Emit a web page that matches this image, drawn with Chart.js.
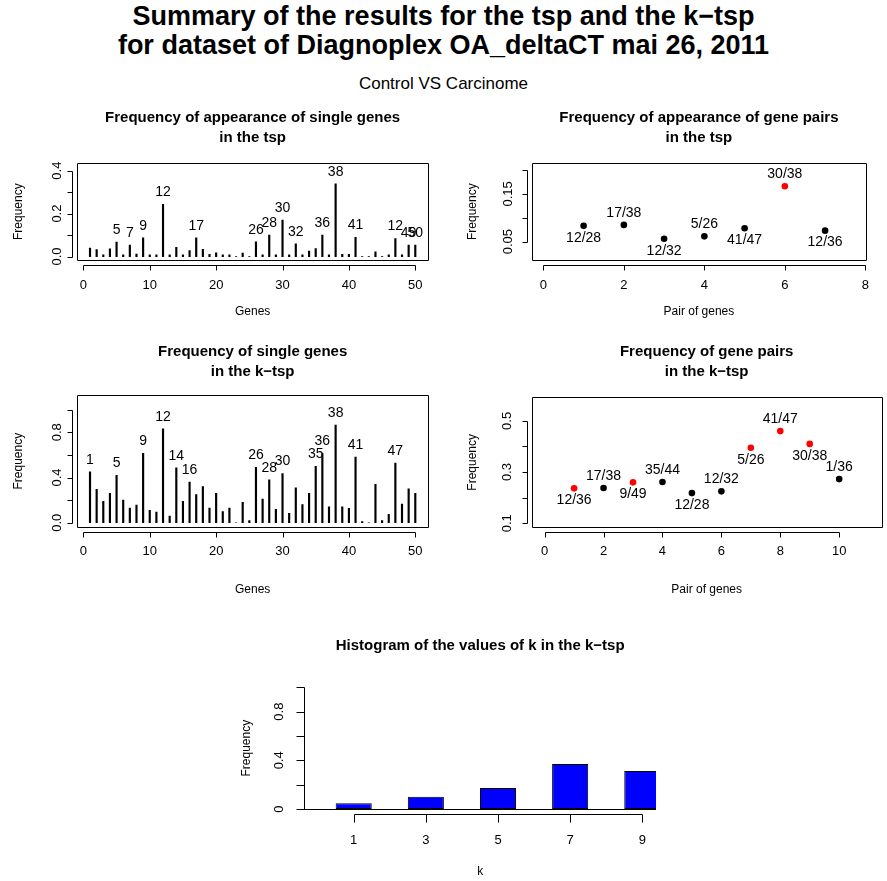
<!DOCTYPE html>
<html>
<head>
<meta charset="utf-8">
<script src="https://cdn.jsdelivr.net/npm/chart.js@4.4.1/dist/chart.umd.min.js"></script>
<style>
  body { margin: 0; background: #fff; }
  #pagina { position: relative; width: 887px; height: 881px; font-family: "Liberation Sans", Arial, Helvetica, sans-serif; color: #000; }
  #pagina canvas { position: absolute; left: 0; top: 0; }
  .titulo { position: absolute; left: 0; width: 887px; text-align: center; }
</style>
</head>
<body>
<div id="pagina">
  <div class="titulo" style="top:2px;font-size:27px;font-weight:bold;line-height:29px;">Summary of the results for the tsp and the k−tsp<br>for dataset of Diagnoplex OA_deltaCT mai 26, 2011</div>
  <div class="titulo" style="top:74px;font-size:17px;line-height:20px;">Control VS Carcinome</div>
  <canvas id="tspGenes" width="887" height="881"></canvas>
  <canvas id="tspPairs" width="887" height="881"></canvas>
  <canvas id="ktspGenes" width="887" height="881"></canvas>
  <canvas id="ktspPairs" width="887" height="881"></canvas>
  <canvas id="histK" width="887" height="881"></canvas>
</div>
<script>
// --- Datos ---
const genes = [1, 2, 3, 4, 5, 6, 7, 8, 9, 10, 11, 12, 13, 14, 15, 16, 17, 18, 19, 20,
               21, 22, 23, 24, 25, 26, 27, 28, 29, 30, 31, 32, 33, 34, 35, 36, 37, 38, 39, 40,
               41, 42, 43, 44, 45, 46, 47, 48, 49, 50];

const tspGeneFreq = [0.040, 0.033, 0.008, 0.036, 0.067, 0.008, 0.054, 0.012, 0.087, 0.008,
                     0.008, 0.243, 0.008, 0.043, 0.008, 0.028, 0.087, 0.034, 0.010, 0.017,
                     0.008, 0.008, 0, 0.016, 0, 0.068, 0.008, 0.100, 0.008, 0.170,
                     0.008, 0.059, 0.008, 0.025, 0.037, 0.100, 0.008, 0.338, 0.010, 0.010,
                     0.090, 0, 0, 0.022, 0, 0.008, 0.084, 0.008, 0.053, 0.053];
const tspLabelGenes = [5, 7, 9, 12, 17, 26, 28, 30, 32, 36, 38, 41, 47, 49, 50];
const tspLabelText = ["5", "7", "9", "12", "17", "26", "28", "30", "32", "36", "38", "41", "12", "49", "50"];

const ktspGeneFreq = [0.450, 0.296, 0.190, 0.260, 0.420, 0.200, 0.130, 0.157, 0.615, 0.110,
                      0.095, 0.830, 0.060, 0.485, 0.190, 0.360, 0.250, 0.320, 0.130, 0.260,
                      0.100, 0.130, 0, 0.180, 0.020, 0.490, 0.210, 0.380, 0.120, 0.435,
                      0.083, 0.310, 0.160, 0.260, 0.500, 0.612, 0.140, 0.865, 0.140, 0.127,
                      0.580, 0.010, 0, 0.340, 0.020, 0.074, 0.527, 0.166, 0.300, 0.260];
const ktspLabelGenes = [1, 5, 9, 12, 14, 16, 26, 28, 30, 35, 36, 38, 41, 47];
const ktspLabelText = ["1", "5", "9", "12", "14", "16", "26", "28", "30", "35", "36", "38", "41", "47"];

const tspPairIdx = [1, 2, 3, 4, 5, 6, 7];
const tspPairFreq = [0.083, 0.085, 0.056, 0.061, 0.078, 0.166, 0.073];
const tspPairNames = ["12/28", "17/38", "12/32", "5/26", "41/47", "30/38", "12/36"];
const tspPairSelected = [false, false, false, false, false, true, false];

const ktspPairIdx = [1, 2, 3, 4, 5, 6, 7, 8, 9, 10];
const ktspPairFreq = [0.2365, 0.2377, 0.260, 0.261, 0.218, 0.2248, 0.395, 0.460, 0.410, 0.2727];
const ktspPairNames = ["12/36", "17/38", "9/49", "35/44", "12/28", "12/32", "5/26", "41/47", "30/38", "1/36"];
const ktspPairSelected = [true, false, true, false, false, false, true, true, true, false];

const kValues = [1, 3, 5, 7, 9];
const kFreq = [0.047, 0.100, 0.173, 0.370, 0.313];

// ticks
const geneTicks = [0, 10, 20, 30, 40, 50];
const tspPairXTicks = [0, 2, 4, 6, 8];
const ktspPairXTicks = [0, 2, 4, 6, 8, 10];
const tspGeneYTicks = [0, 0.1, 0.2, 0.3, 0.4];
const tspGeneYLabels = ["0.0", "", "0.2", "", "0.4"];
const ktspGeneYTicks = [0, 0.2, 0.4, 0.6, 0.8, 1.0];
const ktspGeneYLabels = ["0.0", "", "0.4", "", "0.8", ""];
const tspPairYTicks = [0.05, 0.10, 0.15, 0.20];
const tspPairYLabels = ["0.05", "", "0.15", ""];
const ktspPairYTicks = [0.1, 0.2, 0.3, 0.4, 0.5];
const ktspPairYLabels = ["0.1", "", "0.3", "", "0.5"];
const histYTicks = [0, 0.2, 0.4, 0.6, 0.8, 1.0];
const histYLabels = ["0", "", "0.4", "", "0.8", ""];

const W = 887, H = 881;
Chart.defaults.font.family = '"Liberation Sans", Arial, Helvetica, sans-serif';
Chart.defaults.color = "#000";

// --- Ejes estilo R: caja, linea de eje separada y marcas ---
const ejesR = {
    id: "ejesR",
    afterDraw(chart, args, o) {
        const { ctx, chartArea: a, scales: { x, y } } = chart;
        ctx.save();
        ctx.strokeStyle = "#000";
        ctx.lineWidth = 1;
        ctx.beginPath();
        if (o.caja) {
            ctx.rect(Math.round(a.left) + 0.5, Math.round(a.top) + 0.5, Math.round(a.width), Math.round(a.height));
        }
        const yx = Math.round(a.bottom + o.sep) + 0.5;
        const xs = x.ticks.map(t => Math.round(x.getPixelForValue(t.value)) + 0.5);
        ctx.moveTo(xs[0], yx);
        ctx.lineTo(xs[xs.length - 1], yx);
        xs.forEach(p => { ctx.moveTo(p, yx); ctx.lineTo(p, yx + o.marca); });
        const xy = Math.round(a.left - o.sep) + 0.5;
        const ys = y.ticks.map(t => Math.round(y.getPixelForValue(t.value)) + 0.5);
        ctx.moveTo(xy, ys[0]);
        ctx.lineTo(xy, ys[ys.length - 1]);
        ys.forEach(p => { ctx.moveTo(xy, p); ctx.lineTo(xy - o.marca, p); });
        if (o.cero) {
            const p0 = Math.round(y.getPixelForValue(0)) + 0.5;
            ctx.moveTo(a.left, p0);
            ctx.lineTo(a.right, p0);
        }
        ctx.stroke();
        ctx.restore();
    }
};

// --- Etiquetas de texto sobre barras / puntos ---
const etiquetas = {
    id: "etiquetas",
    afterDatasetsDraw(chart) {
        const ds = chart.data.datasets[0];
        if (!ds.etiquetas) return;
        const meta = chart.getDatasetMeta(0);
        const ctx = chart.ctx;
        ctx.save();
        ctx.font = '14px "Liberation Sans", Arial, sans-serif';
        ctx.fillStyle = "#000";
        ctx.textAlign = "center";
        ctx.textBaseline = "middle";
        ds.etiquetas.forEach((t, i) => {
            if (!t) return;
            const el = meta.data[i];
            ctx.fillText(t, el.x, el.y + (ds.arriba[i] ? -12 : 12));
        });
        ctx.restore();
    }
};

function crearPanel(id, p) {
    const padLeft = p.yTitleX - 7.2;
    const hx = p.xTitleY + 7.2 - p.box.b;
    const wy = p.box.l - padLeft;
    return new Chart(document.getElementById(id), {
        type: p.type,
        data: { datasets: p.datasets },
        options: {
            responsive: false,
            animation: false,
            events: [],
            layout: { padding: { left: padLeft, top: p.titleTop, right: W - p.box.r, bottom: H - p.box.b - hx } },
            plugins: {
                legend: { display: false },
                tooltip: { enabled: false },
                title: {
                    display: true, text: p.title, fullSize: false, color: "#000",
                    font: { size: 15, weight: "bold", lineHeight: 20 / 15 },
                    padding: { top: 0, bottom: p.box.t - p.titleTop - 20 * p.title.length }
                },
                ejesR: p.ejes
            },
            scales: {
                x: {
                    type: "linear", min: p.xMin, max: p.xMax, offset: false,
                    afterBuildTicks: s => { s.ticks = p.xTicks.map(v => ({ value: v })); },
                    ticks: { autoSkip: false, maxRotation: 0, padding: p.xLabelPad, font: { size: 13 }, color: "#000", callback: v => String(v) },
                    grid: { display: false, drawTicks: false },
                    border: { display: false },
                    title: { display: true, text: p.xTitle, font: { size: 12 }, color: "#000", padding: 0 },
                    afterFit: s => { s.height = hx; }
                },
                y: {
                    type: "linear", min: p.yMin, max: p.yMax,
                    afterBuildTicks: s => { s.ticks = p.yTicks.map(v => ({ value: v })); },
                    ticks: { autoSkip: false, minRotation: 90, maxRotation: 90, crossAlign: "center", padding: p.yLabelPad,
                             font: { size: 13 }, color: "#000", callback: (v, i) => p.yLabels[i] },
                    grid: { display: false, drawTicks: false },
                    border: { display: false },
                    title: { display: true, text: "Frequency", font: { size: 12 }, color: "#000", padding: 0 },
                    afterFit: s => { s.width = wy; }
                }
            }
        },
        plugins: [ejesR, etiquetas]
    });
}

function etiquetasGenes(lista, textos) {
    return genes.map(g => {
        const k = lista.indexOf(g);
        return k < 0 ? "" : textos[k];
    });
}

// --- Frecuencia de genes en el tsp ---
crearPanel("tspGenes", {
    type: "bar",
    title: ["Frequency of appearance of single genes", "in the tsp"],
    titleTop: 108,
    box: { l: 77, t: 163.3, r: 428.3, b: 260 },
    xMin: -0.96, xMax: 51.96, xTicks: geneTicks, xTitle: "Genes", xTitleY: 312, xLabelPad: 18,
    yMin: -0.016, yMax: 0.434, yTicks: tspGeneYTicks, yLabels: tspGeneYLabels, yTitleX: 19, yLabelPad: 11,
    ejes: { caja: true, sep: 5, marca: 5 },
    datasets: [{
        data: genes.map((g, i) => ({ x: g, y: tspGeneFreq[i] })),
        backgroundColor: "#000", barThickness: 1.5, clip: 0,
        etiquetas: etiquetasGenes(tspLabelGenes, tspLabelText),
        arriba: genes.map(() => true)
    }]
});

// --- Frecuencia de pares en el tsp ---
crearPanel("tspPairs", {
    type: "scatter",
    title: ["Frequency of appearance of gene pairs", "in the tsp"],
    titleTop: 108,
    box: { l: 531.7, t: 163.3, r: 882.7, b: 260 },
    xMin: -0.29, xMax: 8.02, xTicks: tspPairXTicks, xTitle: "Pair of genes", xTitleY: 312, xLabelPad: 18,
    yMin: 0.0115, yMax: 0.214, yTicks: tspPairYTicks, yLabels: tspPairYLabels, yTitleX: 473, yLabelPad: 10.8,
    ejes: { caja: true, sep: 5, marca: 5 },
    datasets: [{
        data: tspPairIdx.map((v, i) => ({ x: v, y: tspPairFreq[i] })),
        pointRadius: 3.3, borderWidth: 0,
        pointBackgroundColor: tspPairSelected.map(s => s ? "#ff0000" : "#000000"),
        etiquetas: tspPairNames,
        arriba: tspPairIdx.map((v, i) => i % 2 === 1)
    }]
});

// --- Frecuencia de genes en el k-tsp ---
crearPanel("ktspGenes", {
    type: "bar",
    title: ["Frequency of single genes", "in the k−tsp"],
    titleTop: 342,
    box: { l: 77, t: 395, r: 428.3, b: 527.3 },
    xMin: -0.96, xMax: 51.96, xTicks: geneTicks, xTitle: "Genes", xTitleY: 590, xLabelPad: 16,
    yMin: -0.04, yMax: 1.13, yTicks: ktspGeneYTicks, yLabels: ktspGeneYLabels, yTitleX: 19, yLabelPad: 10.7,
    ejes: { caja: true, sep: 5, marca: 5 },
    datasets: [{
        data: genes.map((g, i) => ({ x: g, y: ktspGeneFreq[i] })),
        backgroundColor: "#000", barThickness: 1.5, clip: 0,
        etiquetas: etiquetasGenes(ktspLabelGenes, ktspLabelText),
        arriba: genes.map(() => true)
    }]
});

// --- Frecuencia de pares en el k-tsp ---
crearPanel("ktspPairs", {
    type: "scatter",
    title: ["Frequency of gene pairs", "in the k−tsp"],
    titleTop: 342,
    box: { l: 531.7, t: 397.3, r: 881.6, b: 527.3 },
    xMin: -0.44, xMax: 11.44, xTicks: ktspPairXTicks, xTitle: "Pair of genes", xTitleY: 590, xLabelPad: 16,
    yMin: 0.0844, yMax: 0.592, yTicks: ktspPairYTicks, yLabels: ktspPairYLabels, yTitleX: 473, yLabelPad: 15.4,
    ejes: { caja: true, sep: 5, marca: 5 },
    datasets: [{
        data: ktspPairIdx.map((v, i) => ({ x: v, y: ktspPairFreq[i] })),
        pointRadius: 3.3, borderWidth: 0,
        pointBackgroundColor: ktspPairSelected.map(s => s ? "#ff0000" : "#000000"),
        etiquetas: ktspPairNames,
        arriba: ktspPairIdx.map((v, i) => i % 2 === 1)
    }]
});

// --- Histograma de k ---
crearPanel("histK", {
    type: "bar",
    title: ["Histogram of the values of k in the k−tsp"],
    titleTop: 636,
    box: { l: 304.3, t: 682.4, r: 656, b: 813.9 },
    xMin: -0.37, xMax: 9.38, xTicks: kValues, xTitle: "k", xTitleY: 872, xLabelPad: 18.3,
    yMin: -0.04, yMax: 1.04, yTicks: histYTicks, yLabels: histYLabels, yTitleX: 247, yLabelPad: 16.3,
    ejes: { caja: false, sep: 0, marca: 8, cero: true },
    datasets: [{
        data: kValues.map((k, i) => ({ x: k, y: kFreq[i] })),
        backgroundColor: "#0000ff", borderColor: "#000", borderWidth: 1, borderSkipped: false,
        barPercentage: 0.5, categoryPercentage: 1, clip: 0
    }]
});
</script>
</body>
</html>
